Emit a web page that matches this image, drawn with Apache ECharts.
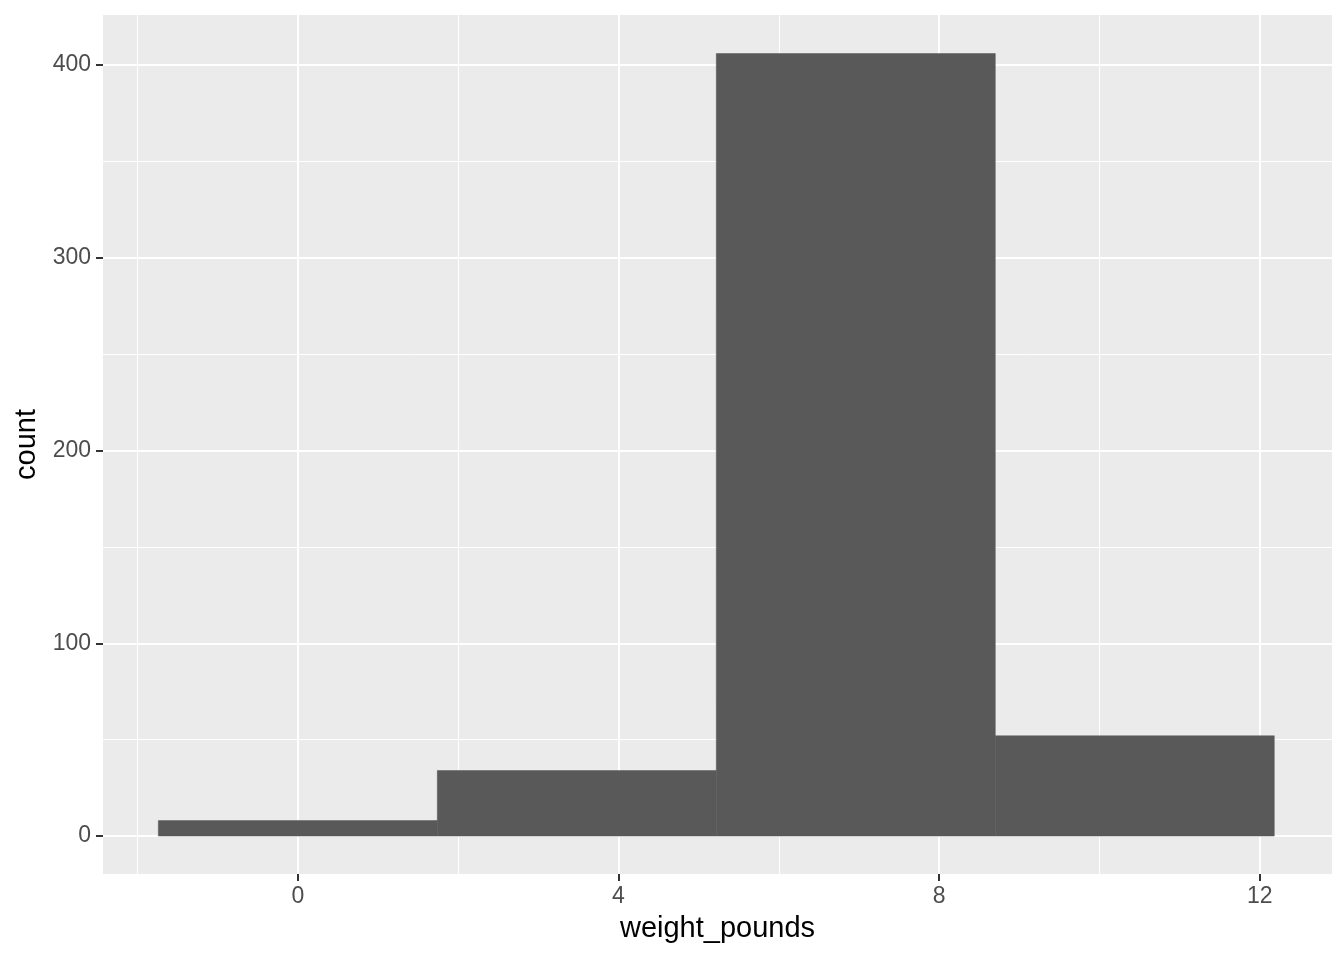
<!DOCTYPE html>
<html>
<head>
<meta charset="utf-8">
<script src="https://cdn.jsdelivr.net/npm/echarts@6/dist/echarts.min.js"></script>
<style>
  html, body { margin: 0; padding: 0; background: #fff; }
  #chart { width: 1344px; height: 960px; }
</style>
</head>
<body>
<div id="chart"></div>
<script>
// histogram bins (weight_pounds)
const binStart = [-1.74, 1.74, 5.22, 8.70]
const binEnd = [1.74, 5.22, 8.70, 12.18]
const counts = [8, 34, 406, 52]
const xTicks = [0, 4, 8, 12]
const xMinor = [-2, 2, 6, 10]
const yTicks = [0, 100, 200, 300, 400]
const yMinor = [50, 150, 250, 350]

const xMin = -2.43, xMax = 12.9
const yMin = -19.7, yMax = 426

const chart = echarts.init(document.getElementById('chart'))

chart.setOption({
  animation: false,
  grid: { left: 103, top: 15, right: 12, bottom: 86, show: true, backgroundColor: '#EBEBEB', borderWidth: 0 },
  xAxis: [
    {
      type: 'value', min: xMin, max: xMax,
      name: 'weight_pounds', nameLocation: 'middle', nameGap: 40,
      nameTextStyle: { color: '#000', fontSize: 29, fontFamily: 'Liberation Sans' },
      axisLine: { show: false, onZero: false },
      axisTick: { show: true, customValues: xTicks, length: 7, lineStyle: { color: '#333', width: 2 } },
      axisLabel: { customValues: xTicks, color: '#4D4D4D', fontSize: 23, margin: 11, fontFamily: 'Liberation Sans' },
      splitLine: { show: true, lineStyle: { color: '#fff', width: 2 } }
    },
    {
      type: 'value', min: xMin, max: xMax, position: 'bottom',
      axisLine: { show: false, onZero: false },
      axisTick: { show: false, customValues: xMinor },
      axisLabel: { show: false, customValues: xMinor },
      splitLine: { show: true, lineStyle: { color: '#fff', width: 1 } }
    }
  ],
  yAxis: [
    {
      type: 'value', min: yMin, max: yMax,
      name: 'count', nameLocation: 'middle', nameGap: 58,
      nameTextStyle: { color: '#000', fontSize: 29, fontFamily: 'Liberation Sans' },
      axisLine: { show: false, onZero: false },
      axisTick: { show: true, customValues: yTicks, length: 7, lineStyle: { color: '#333', width: 2 } },
      axisLabel: { customValues: yTicks, color: '#4D4D4D', fontSize: 23, margin: 12, fontFamily: 'Liberation Sans' },
      splitLine: { show: true, lineStyle: { color: '#fff', width: 2 } }
    },
    {
      type: 'value', min: yMin, max: yMax, position: 'left',
      axisLine: { show: false, onZero: false },
      axisTick: { show: false, customValues: yMinor },
      axisLabel: { show: false, customValues: yMinor },
      splitLine: { show: true, lineStyle: { color: '#fff', width: 1 } }
    }
  ],
  series: [{
    type: 'custom',
    xAxisIndex: 0,
    yAxisIndex: 0,
    data: counts.map((c, i) => [binStart[i], binEnd[i], c]),
    renderItem: function (params, api) {
      const p0 = api.coord([api.value(0), 0])
      const p1 = api.coord([api.value(1), api.value(2)])
      return {
        type: 'rect',
        shape: { x: p0[0], y: p1[1], width: p1[0] - p0[0], height: p0[1] - p1[1] },
        style: { fill: '#595959', stroke: '#595959', lineWidth: 0.5 }
      }
    }
  }]
})
</script>
</body>
</html>
